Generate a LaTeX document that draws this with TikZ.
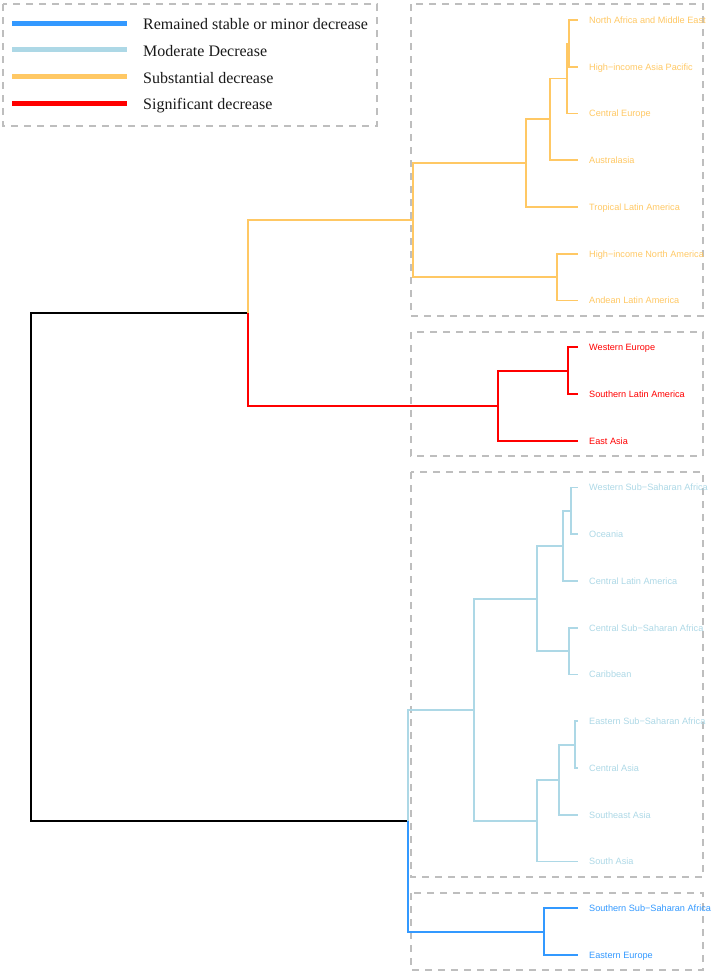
\documentclass[tikz,border=0pt]{standalone}
\usepackage{fontspec}
\setmainfont{Liberation Serif}
\newfontfamily\labfont{Liberation Sans}
\definecolor{cOr}{RGB}{255,200,100}
\definecolor{cRd}{RGB}{255,0,0}
\definecolor{cLb}{RGB}{173,216,230}
\definecolor{cBl}{RGB}{51,153,255}
\definecolor{cGr}{RGB}{190,190,190}
\definecolor{cTx}{RGB}{25,25,25}
\begin{document}
\begin{tikzpicture}[x=1pt,y=-1pt,
  br/.style={line width=1.8pt},
  dashbox/.style={draw=cGr,line width=1.6pt,dash pattern=on 7pt off 6pt},
  leaf/.style={anchor=west,inner xsep=11pt,inner ysep=0pt,
    font=\labfont\fontsize{9.15}{11}\selectfont,text height=6.6pt,text depth=0pt},
  legline/.style={line width=5pt},
  legtext/.style={anchor=base west,inner sep=0pt,text=cTx,font=\fontsize{16}{19}\selectfont}]
\useasboundingbox (0,0) rectangle (715,975);

% dashed cluster boxes and legend frame
\draw[dashbox] (411,4) rectangle (703,316);
\draw[dashbox] (411,332) rectangle (703,456);
\draw[dashbox] (411,472) rectangle (703,877);
\draw[dashbox] (411,893) rectangle (703,970);
\draw[dashbox] (3,4) rectangle (377,126);

% legend
\coordinate (la1) at (12,23);  \coordinate (lb1) at (127,23);
\coordinate (la2) at (12,49.5);  \coordinate (lb2) at (127,49.5);
\coordinate (la3) at (12,76.5);  \coordinate (lb3) at (127,76.5);
\coordinate (la4) at (12,103); \coordinate (lb4) at (127,103);
\draw[legline,cBl] (la1) -- (lb1);
\draw[legline,cLb] (la2) -- (lb2);
\draw[legline,cOr] (la3) -- (lb3);
\draw[legline,cRd] (la4) -- (lb4);
\node[legtext] (lt1) at (143,29.5) {Remained stable or minor decrease};
\node[legtext] (lt2) at (143,56) {Moderate Decrease};
\node[legtext] (lt3) at (143,83) {Substantial decrease};
\node[legtext] (lt4) at (143,109.5) {Significant decrease};

% leaves
\node[leaf,text=cOr] (n1) at (578,20) {North Africa and Middle East};
\node[leaf,text=cOr] (n2) at (578,66.75) {High−income Asia Pacific};
\node[leaf,text=cOr] (n3) at (578,113.5) {Central Europe};
\node[leaf,text=cOr] (n4) at (578,160.25) {Australasia};
\node[leaf,text=cOr] (n5) at (578,207) {Tropical Latin America};
\node[leaf,text=cOr] (n6) at (578,253.75) {High−income North America};
\node[leaf,text=cOr] (n7) at (578,300.5) {Andean Latin America};
\node[leaf,text=cRd] (n8) at (578,347.25) {Western Europe};
\node[leaf,text=cRd] (n9) at (578,394) {Southern Latin America};
\node[leaf,text=cRd] (n10) at (578,440.75) {East Asia};
\node[leaf,text=cLb] (n11) at (578,487.5) {Western Sub−Saharan Africa};
\node[leaf,text=cLb] (n12) at (578,534.25) {Oceania};
\node[leaf,text=cLb] (n13) at (578,581) {Central Latin America};
\node[leaf,text=cLb] (n14) at (578,627.75) {Central Sub−Saharan Africa};
\node[leaf,text=cLb] (n15) at (578,674.5) {Caribbean};
\node[leaf,text=cLb] (n16) at (578,721.25) {Eastern Sub−Saharan Africa};
\node[leaf,text=cLb] (n17) at (578,768) {Central Asia};
\node[leaf,text=cLb] (n18) at (578,814.75) {Southeast Asia};
\node[leaf,text=cLb] (n19) at (578,861.5) {South Asia};
\node[leaf,text=cBl] (n20) at (578,908.25) {Southern Sub−Saharan Africa};
\node[leaf,text=cBl] (n21) at (578,955) {Eastern Europe};

% internal merge points
\coordinate (O1111) at (569,43.4);
\coordinate (O111) at (567,78.4);
\coordinate (O11) at (550,119.3);
\coordinate (O1) at (526,163.2);
\coordinate (O2) at (557,277.1);
\coordinate (O) at (413,220.2);
\coordinate (R1) at (568,370.6);
\coordinate (R) at (498,405.7);
\coordinate (A) at (248,312.9);
\coordinate (L111) at (571,510.9);
\coordinate (L11) at (563,546);
\coordinate (L12) at (569,651.1);
\coordinate (L1) at (537,598.6);
\coordinate (L211) at (575,744.6);
\coordinate (L21) at (559,779.7);
\coordinate (L2) at (537,820.6);
\coordinate (L) at (474,709.6);
\coordinate (D) at (544,931.6);
\coordinate (B) at (408,820.6);
\coordinate (root) at (31,566.8);

% black trunk
\draw[br,black] (root) |- (A) (root) |- (B);
% orange cluster
\draw[br,cOr] (A) |- (O);
\draw[br,cOr] (O) |- (O1) (O) |- (O2);
\draw[br,cOr] (O1) |- (O11) (O1) |- (n5);
\draw[br,cOr] (O11) |- (O111) (O11) |- (n4);
\draw[br,cOr] (O111) |- (O1111) (O111) |- (n3);
\draw[br,cOr] (O1111) |- (n1) (O1111) |- (n2);
\draw[br,cOr] (O2) |- (n6) (O2) |- (n7);
% red cluster
\draw[br,cRd] (A) |- (R);
\draw[br,cRd] (R) |- (R1) (R) |- (n10);
\draw[br,cRd] (R1) |- (n8) (R1) |- (n9);
% light blue cluster
\draw[br,cLb] (B) |- (L);
\draw[br,cLb] (L) |- (L1) (L) |- (L2);
\draw[br,cLb] (L1) |- (L11) (L1) |- (L12);
\draw[br,cLb] (L11) |- (L111) (L11) |- (n13);
\draw[br,cLb] (L111) |- (n11) (L111) |- (n12);
\draw[br,cLb] (L12) |- (n14) (L12) |- (n15);
\draw[br,cLb] (L2) |- (L21) (L2) |- (n19);
\draw[br,cLb] (L21) |- (L211) (L21) |- (n18);
\draw[br,cLb] (L211) |- (n16) (L211) |- (n17);
% blue cluster
\draw[br,cBl] (B) |- (D);
\draw[br,cBl] (D) |- (n20) (D) |- (n21);
\end{tikzpicture}
\end{document}
